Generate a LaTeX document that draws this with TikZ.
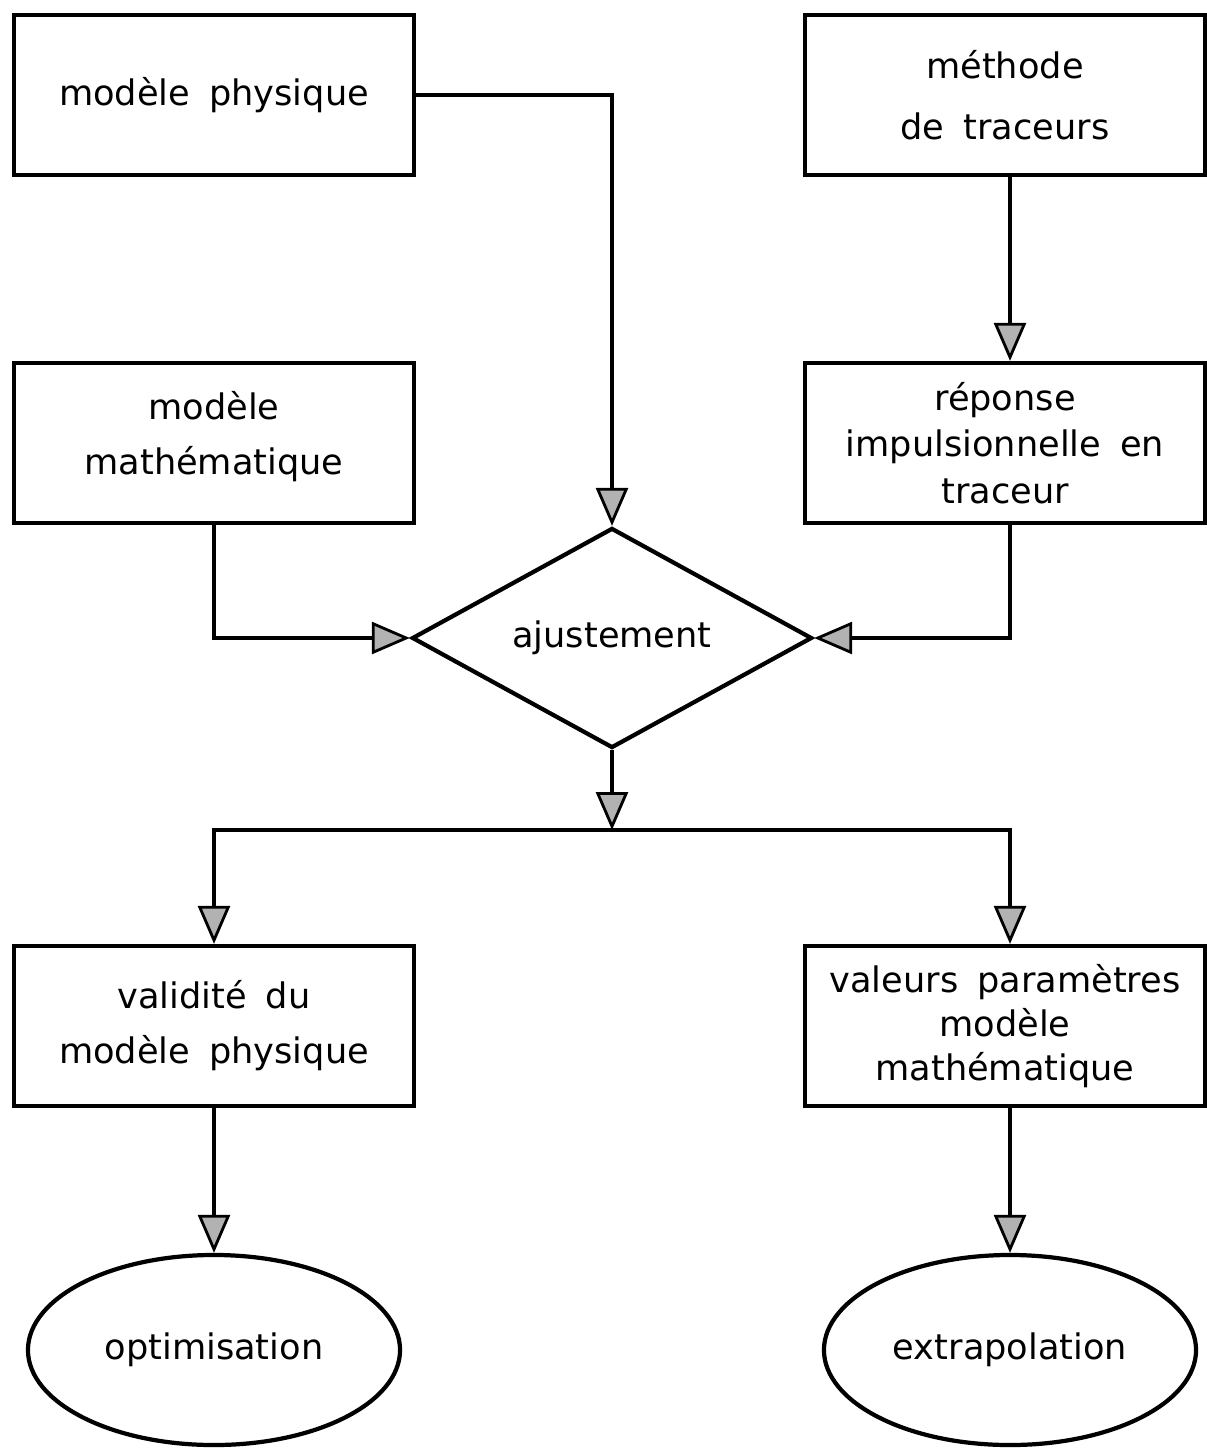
\documentclass[tikz,border=0pt]{standalone}
\usepackage{fontspec}
\setmainfont{DejaVu Sans}[WordSpace=1.7]
\usetikzlibrary{arrows.meta,shapes.geometric}
\newcommand{\fs}[1]{\fontsize{25}{#1}\selectfont}
\begin{document}
\begin{tikzpicture}[x=0.025cm,y=-0.025cm,
  txt/.style={font=\fs{34}},
  box/.style={draw,line width=3pt,minimum width=10cm,minimum height=4cm,align=center,inner sep=0pt,txt},
  oval/.style={draw,line width=3pt,ellipse,minimum width=9.3cm,minimum height=4.75cm,inner sep=0pt,txt},
  dia/.style={draw,line width=3pt,diamond,shape aspect=1.82,minimum width=10cm,minimum height=5.5cm,inner sep=0pt,txt},
  conn/.style={line width=2.6pt},
  arr/.style={conn,-{Triangle[length=0.95cm,width=0.8cm,fill=black!30,line width=2pt]}}]
\useasboundingbox (0,0) rectangle (1206,1448);
\node[box] (mp) at (214,95) {modèle physique};
\node[box,font=\fs{43}] (mt) at (1005,95) {méthode\\de traceurs};
\node[box,font=\fs{39},text depth=0.5cm] (mm) at (214,443) {modèle\\mathématique};
\node[box,font=\fs{33}] (ri) at (1005,443) {\rule{0pt}{0.35cm}réponse\\impulsionnelle en\\traceur};
\node[dia] (aj) at (612,638) {ajustement};
\coordinate (split) at (612,830);
\node[box,font=\fs{39}] (vm) at (214,1026) {validité du\\modèle physique};
\node[box,font=\fs{31}] (vp) at (1005,1026) {valeurs paramètres\\modèle\\mathématique};
\node[oval] (op) at (214,1350) {optimisation};
\node[oval] (ex) at (1010,1350) {extrapolation};
\draw[arr] (mp.east) -| (aj.north);
\draw[arr] (mt.south -| 1010,0) -- (ri.north -| 1010,0);
\draw[arr] (mm.south) |- (aj.west);
\draw[arr] (ri.south -| 1010,0) |- (aj.east);
\draw[arr] (aj.south) -- (split);
\draw[arr] (split) -| (vm.north);
\draw[arr] (split) -| (vp.north -| 1010,0);
\draw[arr] (vm.south) -- (op.north);
\draw[arr] (vp.south -| 1010,0) -- (ex.north);
\end{tikzpicture}
\end{document}
